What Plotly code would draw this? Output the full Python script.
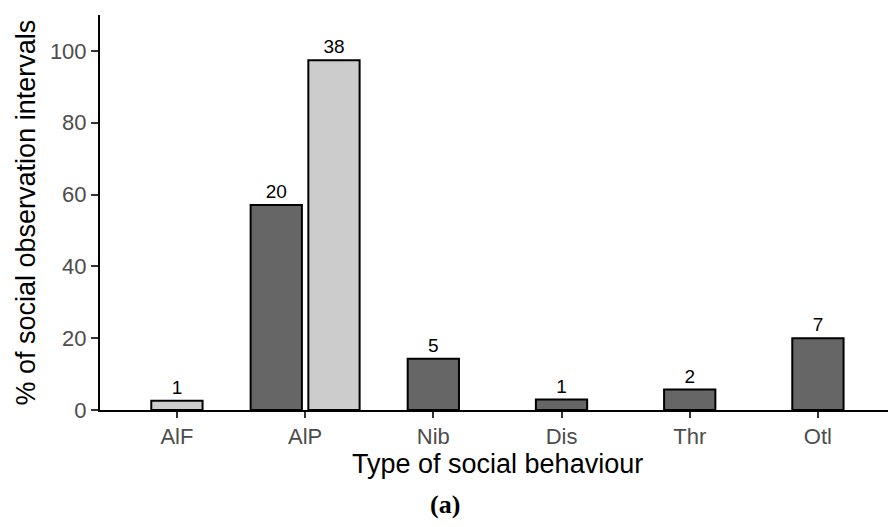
import plotly.graph_objects as go

categories = ["AlF", "AlP", "Nib", "Dis", "Thr", "Otl"]
# dark series (percent, count label); None = absent
dark_pct = [None, 57.1, 14.3, 2.9, 5.7, 20.0]
dark_n = [None, 20, 5, 1, 2, 7]
# light series
light_pct = [2.6, 97.4, None, None, None, None]
light_n = [1, 38, None, None, None, None]

series = [
    ("dark", dark_pct, dark_n, "#666666"),
    ("light", light_pct, light_n, "#CCCCCC"),
]

BAR_W = 0.4
SLOT = 0.45

# dodge positions: bars centered within each category by number present
positions = {name: [None] * len(categories) for name, *_ in series}
for i in range(len(categories)):
    present = [name for name, vals, _, _ in series if vals[i] is not None]
    k = len(present)
    for j, name in enumerate(present):
        positions[name][i] = i + (j - (k - 1) / 2) * SLOT

fig = go.Figure()
for name, vals, ns, color in series:
    xs = [positions[name][i] for i in range(len(categories)) if vals[i] is not None]
    ys = [vals[i] for i in range(len(categories)) if vals[i] is not None]
    ts = [str(ns[i]) for i in range(len(categories)) if vals[i] is not None]
    fig.add_trace(go.Bar(
        x=xs, y=ys, width=BAR_W, name=name,
        marker=dict(color=color, line=dict(color="black", width=2)),
        text=ts, textposition="outside", cliponaxis=False,
        textfont=dict(size=19, color="black", family="Liberation Sans, Arial"),
        constraintext="none",
    ))

fig.update_layout(
    width=888, height=527,
    margin=dict(l=100, r=0, t=15, b=117),
    plot_bgcolor="white", paper_bgcolor="white",
    showlegend=False,
    font=dict(family="Liberation Sans, Arial", color="black"),
    xaxis=dict(
        range=[-0.6, -0.6 + 788 / 128.2],
        tickmode="array", tickvals=list(range(len(categories))), ticktext=categories,
        showline=True, linecolor="black", linewidth=2,
        ticks="outside", ticklen=6, tickwidth=2, tickcolor="#333333",
        tickfont=dict(size=22, color="#4D4D4D"),
        showgrid=False, zeroline=False,
    ),
    yaxis=dict(
        range=[0, 110],
        tickvals=[0, 20, 40, 60, 80, 100],
        showline=True, linecolor="black", linewidth=2,
        ticks="outside", ticklen=7, tickwidth=2, tickcolor="#333333",
        tickfont=dict(size=22, color="#4D4D4D"),
        showgrid=False, zeroline=False,
    ),
    annotations=[
        dict(text="Type of social behaviour", xref="x", yref="paper", x=2.5, y=0,
             yanchor="middle", xanchor="center", yshift=-54, showarrow=False,
             font=dict(size=27, color="black")),
        dict(text="% of social observation intervals", xref="paper", yref="y", x=0, y=55,
             textangle=-90, xanchor="center", yanchor="middle", xshift=-75, showarrow=False,
             font=dict(size=27, color="black")),
        dict(text="<b>(a)</b>", xref="paper", yref="paper", x=(445 - 100) / 788, y=0,
             xanchor="center", yanchor="middle", yshift=-94, showarrow=False,
             font=dict(size=26, color="black", family="Liberation Serif, serif")),
    ],
)

fig.write_html("out.html")
